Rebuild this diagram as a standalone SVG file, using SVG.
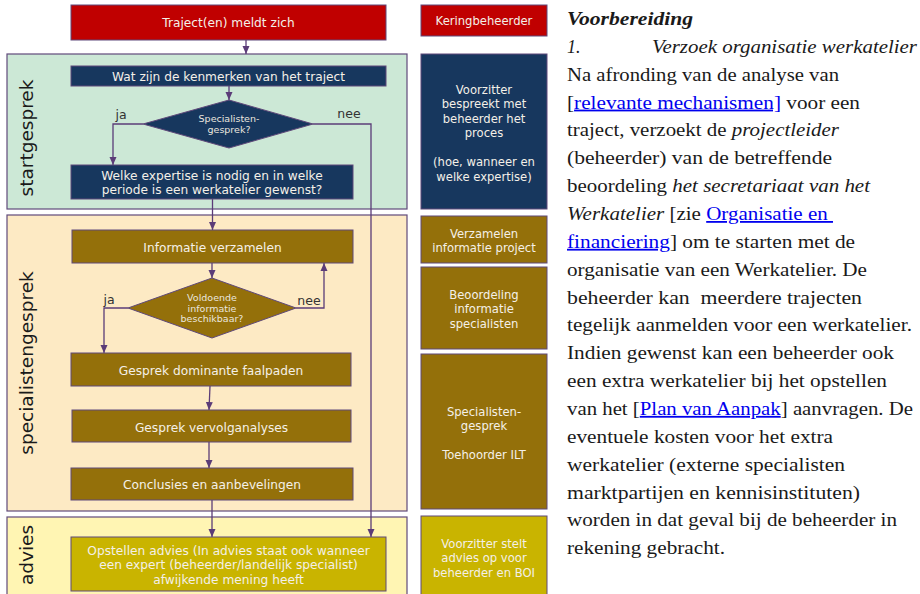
<svg xmlns="http://www.w3.org/2000/svg" width="920" height="594" viewBox="0 0 920 594">
<defs>
<marker id="ah" markerUnits="userSpaceOnUse" markerWidth="8" markerHeight="8" viewBox="0 0 8 8" refX="8" refY="4" orient="auto">
<path d="M0,0.5 L8,4 L0,7.5 Z" fill="#5B3C78"/>
</marker>
<style>
.band{stroke:#604A7B;stroke-width:1.2}
.box{stroke:#5F497A;stroke-width:1}
.red{fill:#C00000}
.blue{fill:#17375E}
.brown{fill:#94700A}
.olive{fill:#C9B400}
.t{font-family:"DejaVu Sans",Verdana,sans-serif;font-size:12.2px;fill:#F4F0E8;text-anchor:middle}
.ts{font-family:"DejaVu Sans",Verdana,sans-serif;font-size:9.5px;fill:#EAE6DE;text-anchor:middle}
.tr{font-family:"DejaVu Sans",Verdana,sans-serif;font-size:11.6px;fill:#F4F0E8;text-anchor:middle}
.lbl{font-family:"DejaVu Sans",Verdana,sans-serif;font-size:12.5px;fill:#333333;text-anchor:middle}
.vt{font-family:"DejaVu Sans",Verdana,sans-serif;font-size:18.5px;fill:#1A1A1A;text-anchor:middle}
.c{fill:none;stroke:#5B3C78;stroke-width:1.3;marker-end:url(#ah)}
.p{font-family:"Liberation Serif","Times New Roman",serif;font-size:18px;fill:#1A1A1A}
.i{font-style:italic}
.lk{fill:#0000EE;text-decoration:underline}
</style>
</defs>

<g id="band-startgesprek">
<rect class="band" x="7" y="54" width="400" height="155" fill="#CCE8D6"/>
<text class="vt" transform="translate(33,138) rotate(-90)">startgesprek</text>
</g>
<g id="band-specialistengesprek">
<rect class="band" x="7" y="215" width="400" height="296" fill="#FDEAC4"/>
<text class="vt" transform="translate(33,363) rotate(-90)">specialistengesprek</text>
</g>
<g id="band-advies">
<rect class="band" x="7" y="517" width="400" height="84" fill="#FFF5B3"/>
<text class="vt" transform="translate(33,555) rotate(-90)">advies</text>
</g>

<g id="connectors">
<path class="c" d="M246,40 V54"/>
<path class="c" d="M229,86 V100"/>
<path class="c" d="M143,124 H113 V165"/>
<path class="c" d="M313,124 H371 V537"/>
<path class="c" d="M212.5,199 V230"/>
<path class="c" d="M212,263 V278"/>
<path class="c" d="M128,308 H104 V353"/>
<path class="c" d="M296,308 H324 V263"/>
<path class="c" d="M210,386 L209,410"/>
<path class="c" d="M209,442 V468"/>
<path class="c" d="M212,500 V537"/>
<text class="lbl" x="121" y="118.5">ja</text>
<text class="lbl" x="349" y="117.5">nee</text>
<text class="lbl" x="109" y="303.5">ja</text>
<text class="lbl" x="309" y="305">nee</text>
</g>

<g id="n-traject">
<rect class="box red" x="71" y="5" width="315" height="35"/>
<text class="t" x="228.5" y="27">Traject(en) meldt zich</text>
</g>
<g id="n-kenmerken">
<rect class="box blue" x="71" y="66" width="315" height="20"/>
<text class="t" x="228.5" y="80.5">Wat zijn de kenmerken van het traject</text>
</g>
<g id="d-specialistengesprek">
<polygon class="box blue" points="143,124 229,100 313,124 229,148"/>
<text class="ts" x="229" y="121.5">Specialisten-</text>
<text class="ts" x="229" y="132.5">gesprek?</text>
</g>
<g id="n-expertise">
<rect class="box blue" x="71" y="165" width="282" height="34"/>
<text class="t" x="212" y="179.5">Welke expertise is nodig en in welke</text>
<text class="t" x="212" y="193.5">periode is een werkatelier gewenst?</text>
</g>
<g id="n-informatie">
<rect class="box brown" x="72" y="230" width="281" height="33"/>
<text class="t" x="212.5" y="251.5">Informatie verzamelen</text>
</g>
<g id="d-voldoende">
<polygon class="box brown" points="128,308 212,278 296,308 212,338"/>
<text class="ts" x="212" y="300.5">Voldoende</text>
<text class="ts" x="212" y="311.5">informatie</text>
<text class="ts" x="212" y="322">beschikbaar?</text>
</g>
<g id="n-faalpaden">
<rect class="box brown" x="71" y="353" width="280" height="33"/>
<text class="t" x="211" y="374.5">Gesprek dominante faalpaden</text>
</g>
<g id="n-vervolganalyses">
<rect class="box brown" x="72" y="410" width="279" height="32"/>
<text class="t" x="211.5" y="431.5">Gesprek vervolganalyses</text>
</g>
<g id="n-conclusies">
<rect class="box brown" x="71" y="468" width="282" height="32"/>
<text class="t" x="212" y="488.5">Conclusies en aanbevelingen</text>
</g>
<g id="n-advies">
<rect class="box olive" x="71" y="537" width="315" height="54"/>
<text class="t" x="228.5" y="554.5">Opstellen advies (In advies staat ook wanneer</text>
<text class="t" x="228.5" y="569">een expert (beheerder/landelijk specialist)</text>
<text class="t" x="228.5" y="583.5">afwijkende mening heeft</text>
</g>

<g id="r-keringbeheerder">
<rect class="box red" x="421" y="5" width="126" height="31"/>
<text class="tr" x="484" y="25">Keringbeheerder</text>
</g>
<g id="r-voorzitter">
<rect class="box blue" x="421" y="54" width="126" height="155"/>
<text class="tr" x="484" y="93.5">Voorzitter</text>
<text class="tr" x="484" y="108">bespreekt met</text>
<text class="tr" x="484" y="122.5">beheerder het</text>
<text class="tr" x="484" y="137">proces</text>
<text class="tr" x="484" y="166">(hoe, wanneer en</text>
<text class="tr" x="484" y="181">welke expertise)</text>
</g>
<g id="r-verzamelen">
<rect class="box brown" x="421" y="216" width="126" height="47"/>
<text class="tr" x="484" y="237.5">Verzamelen</text>
<text class="tr" x="484" y="252">informatie project</text>
</g>
<g id="r-beoordeling">
<rect class="box brown" x="421" y="267" width="126" height="82"/>
<text class="tr" x="484" y="298.5">Beoordeling</text>
<text class="tr" x="484" y="313">informatie</text>
<text class="tr" x="484" y="327.5">specialisten</text>
</g>
<g id="r-specialistengesprek">
<rect class="box brown" x="421" y="354" width="126" height="155"/>
<text class="tr" x="484" y="415.5">Specialisten-</text>
<text class="tr" x="484" y="430">gesprek</text>
<text class="tr" x="484" y="458.5">Toehoorder ILT</text>
</g>
<g id="r-voorzitter-advies">
<rect class="box olive" x="421" y="516" width="126" height="85"/>
<text class="tr" x="484" y="547.5">Voorzitter stelt</text>
<text class="tr" x="484" y="561.5">advies op voor</text>
<text class="tr" x="484" y="576.5">beheerder en BOI</text>
</g>

<g id="tekst">
<text class="p" x="567" y="25" font-weight="bold" font-style="italic" textLength="126" lengthAdjust="spacingAndGlyphs">Voorbereiding</text>
<text class="p i" x="567" y="52.9">1.</text>
<text class="p i" x="652" y="52.9" textLength="265" lengthAdjust="spacingAndGlyphs">Verzoek organisatie werkatelier</text>
<text class="p" x="567" y="80.7" textLength="272" lengthAdjust="spacingAndGlyphs">Na afronding van de analyse van</text>
<text class="p" x="567" y="108.6" textLength="293" lengthAdjust="spacingAndGlyphs">[<tspan class="lk">relevante mechanismen]</tspan> voor een</text>
<text class="p" x="567" y="136.4" textLength="272" lengthAdjust="spacingAndGlyphs">traject, verzoekt de <tspan class="i">projectleider</tspan></text>
<text class="p" x="567" y="164.3" textLength="265" lengthAdjust="spacingAndGlyphs">(beheerder) van de betreffende</text>
<text class="p" x="567" y="192.1" textLength="303" lengthAdjust="spacingAndGlyphs">beoordeling <tspan class="i">het secretariaat van het</tspan></text>
<text class="p" x="567" y="220" textLength="266" lengthAdjust="spacingAndGlyphs" xml:space="preserve"><tspan class="i">Werkatelier</tspan> [zie <tspan class="lk">Organisatie en </tspan></text>
<text class="p" x="567" y="247.8" textLength="288" lengthAdjust="spacingAndGlyphs"><tspan class="lk">financiering</tspan>] om te starten met de</text>
<text class="p" x="567" y="275.7" textLength="300" lengthAdjust="spacingAndGlyphs">organisatie van een Werkatelier. De</text>
<text class="p" x="567" y="303.5" textLength="295" lengthAdjust="spacingAndGlyphs" xml:space="preserve">beheerder kan  meerdere trajecten</text>
<text class="p" x="567" y="331.4" textLength="345" lengthAdjust="spacingAndGlyphs">tegelijk aanmelden voor een werkatelier.</text>
<text class="p" x="567" y="359.2" textLength="327" lengthAdjust="spacingAndGlyphs">Indien gewenst kan een beheerder ook</text>
<text class="p" x="567" y="387.1" textLength="320" lengthAdjust="spacingAndGlyphs">een extra werkatelier bij het opstellen</text>
<text class="p" x="567" y="414.9" textLength="346" lengthAdjust="spacingAndGlyphs">van het [<tspan class="lk">Plan van Aanpak</tspan>] aanvragen. De</text>
<text class="p" x="567" y="442.8" textLength="266" lengthAdjust="spacingAndGlyphs">eventuele kosten voor het extra</text>
<text class="p" x="567" y="470.6" textLength="278" lengthAdjust="spacingAndGlyphs">werkatelier (externe specialisten</text>
<text class="p" x="567" y="498.5" textLength="293" lengthAdjust="spacingAndGlyphs">marktpartijen en kennisinstituten)</text>
<text class="p" x="567" y="526.3" textLength="330" lengthAdjust="spacingAndGlyphs">worden in dat geval bij de beheerder in</text>
<text class="p" x="567" y="554.2" textLength="158" lengthAdjust="spacingAndGlyphs">rekening gebracht.</text>
</g>
</svg>
